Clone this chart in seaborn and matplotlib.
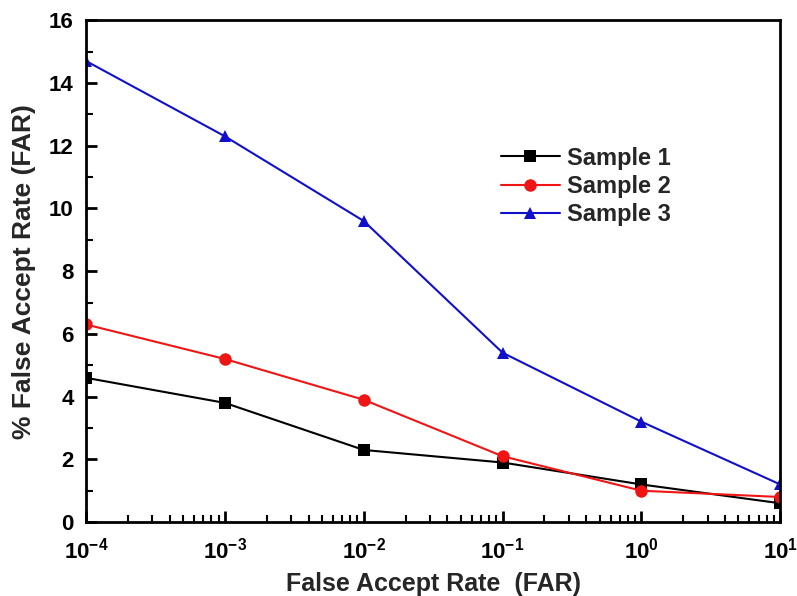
import numpy as np
import pandas as pd
import matplotlib
matplotlib.use("Agg")
import matplotlib.pyplot as plt
import matplotlib.ticker as mticker
import seaborn as sns

far = [1e-4, 1e-3, 1e-2, 1e-1, 1e0, 1e1]
sample1 = [4.6, 3.8, 2.3, 1.9, 1.2, 0.6]
sample2 = [6.3, 5.2, 3.9, 2.1, 1.0, 0.8]
sample3 = [14.7, 12.3, 9.6, 5.4, 3.2, 1.2]
series_names = ["Sample 1", "Sample 2", "Sample 3"]
xtick_labels = [r"$\mathbf{10^{-4}}$", r"$\mathbf{10^{-3}}$", r"$\mathbf{10^{-2}}$",
                r"$\mathbf{10^{-1}}$", r"$\mathbf{10^{0}}$", r"$\mathbf{10^{1}}$"]
yticks = [0, 2, 4, 6, 8, 10, 12, 14, 16]

df = pd.DataFrame({
    "FAR": far * 3,
    "value": sample1 + sample2 + sample3,
    "series": [series_names[0]] * 6 + [series_names[1]] * 6 + [series_names[2]] * 6,
})

sns.set_theme(style="white")
plt.rcParams["font.family"] = ["Liberation Sans", "DejaVu Sans"]
plt.rcParams["font.weight"] = "bold"
plt.rcParams["mathtext.fontset"] = "custom"
plt.rcParams["mathtext.bf"] = "Liberation Sans:bold"
plt.rcParams["mathtext.rm"] = "Liberation Sans:bold"

fig = plt.figure(figsize=(7.97, 5.96), dpi=100)
ax = fig.add_axes([0.108, 0.124, 0.871, 0.842])

palette = {"Sample 1": "black", "Sample 2": "#f01515", "Sample 3": "#1010cc"}
markers = {"Sample 1": "s", "Sample 2": "o", "Sample 3": "^"}
sns.lineplot(data=df, x="FAR", y="value", hue="series", style="series",
             palette=palette, markers=markers, dashes=False, markersize=9,
             linewidth=1.5, markeredgewidth=0, ax=ax)

ax.set_xscale("log")
ax.set_xlim(1e-4, 1e1)
ax.set_ylim(0, 16)
ax.set_xticks(far)
ax.set_xticklabels(xtick_labels)
ax.xaxis.set_minor_locator(mticker.LogLocator(base=10, subs=np.arange(2, 10), numticks=20))
ax.xaxis.set_minor_formatter(mticker.NullFormatter())
ax.set_yticks(yticks)
ax.set_yticklabels([str(v) for v in yticks])
ax.yaxis.set_minor_locator(mticker.MultipleLocator(1))

ax.tick_params(axis="both", which="major", direction="in", length=8, width=2,
               labelsize=16, color="black", labelcolor="black")
ax.tick_params(axis="both", which="minor", direction="in", length=5, width=1.5, color="black")
ax.tick_params(axis="x", which="both", pad=11, top=False, bottom=True)
ax.tick_params(axis="y", which="both", pad=9, left=True, right=False)

for sp in ax.spines.values():
    sp.set_visible(True)
    sp.set_color("black")
    sp.set_linewidth(2)

ax.set_xlabel("False Accept Rate  (FAR)", fontsize=18, fontweight="bold", labelpad=6)
ax.set_ylabel("% False Accept Rate (FAR)", fontsize=19, fontweight="bold", labelpad=9)

leg = ax.legend(loc="upper left", bbox_to_anchor=(0.597, 0.748), frameon=False,
                fontsize=17, handlelength=2.5, handletextpad=0.3, labelspacing=0.22,
                borderaxespad=0, borderpad=0)
for t in leg.get_texts():
    t.set_fontweight("bold")

fig.savefig("out.png", dpi=100)
